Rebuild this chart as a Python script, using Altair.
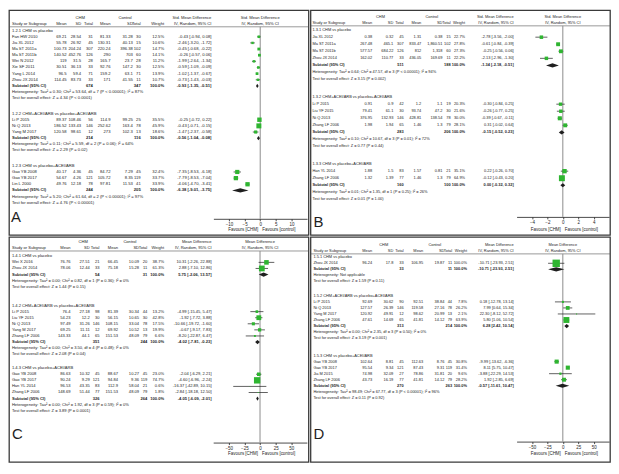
import altair as alt
import pandas as pd

FONT = "Liberation Sans, Arial, sans-serif"
LETTER_FONT = "Liberation Sans, Arial, sans-serif"
INK = "#1e1e1e"
GREEN = "#2fb531"
PW, PH = 301, 226

# ---------------- Panel A : Std. Mean Difference ----------------
A_groups = ["1.2.1 CHM vs placebo", "1.2.2 CHM+ACEI/ARB vs placebo+ACEI/ARB", "1.2.3 CHM vs placebo+ACEI/ARB"]
A_sizes = [8, 3, 3]
A_study = ["Fan HW 2010", "Jia XL 2012", "Ma ST 2011a", "Ma ST 2011b", "Wei N 2012", "Xie SF 2011", "Yang L 2014",
           "Zhou JX 2014", "Li P 2015", "Ni Q 2013", "Yang M 2017", "Gao YB 2008", "Gao YB 2017", "Lin L 2000"]
A_chm_mean = ["69.21", "55.78", "100.73", "140.52", "119", "30.51", "96.5", "114.45", "89.37", "186.52", "120.58", "40.17", "54.67", "49.76"]
A_chm_sd = ["28.54", "26.92", "204.24", "452.76", "31.5", "36.13", "59.4", "83.73", "108.46", "133.43", "98.61", "4.36", "4.26", "12.18"]
A_chm_n = [31, 45, 307, 126, 28, 33, 71, 33, 56, 146, 12, 45, 121, 78]
A_ctl_mean = ["81.33", "130.31", "220.24", "290", "165.7", "92.76", "159.2", "171", "114.9", "252.62", "273", "84.72", "105.72", "97.81"]
A_ctl_sd = ["31.28", "40.13", "396.38", "703", "23.7", "147.2", "63.1", "41.55", "99.25", "163.4", "102.3", "7.29", "8.35", "11.53"]
A_ctl_n = [30, 15, 102, 60, 28, 30, 71, 11, 25, 78, 13, 45, 119, 41]
A_weight = [12.5, 10.6, 14.7, 14.1, 11.2, 12.5, 13.9, 10.7, 35.5, 45.9, 18.6, 32.4, 33.7, 33.9]
A_est = [-0.43, -2.46, -0.45, -0.26, -1.99, -0.59, -1.02, -0.73, -0.25, -0.43, -1.47, -7.35, -7.79, -4.06]
A_lo = [-0.94, -3.20, -0.68, -0.57, -2.64, -1.09, -1.37, -1.43, -0.72, -0.71, -2.37, -8.53, -8.53, -4.70]
A_hi = [0.08, -1.72, -0.22, 0.06, -1.34, -0.09, -0.67, -0.03, 0.22, -0.15, -0.58, -6.18, -7.04, -3.41]
A_sub_chm_n = [674, 214, 244]
A_sub_ctl_n = [347, 116, 205]
A_sub_est = [-0.93, -0.56, -6.38]
A_sub_lo = [-1.35, -1.04, -9.01]
A_sub_hi = [-0.51, -0.08, -3.75]
A_het = ["Heterogeneity: Tau\u00b2 = 0.30; Chi\u00b2 = 53.64, df = 7 (P < 0.00001); I\u00b2 = 87%",
         "Heterogeneity: Tau\u00b2 = 0.11; Chi\u00b2 = 5.59, df = 2 (P = 0.06); I\u00b2 = 64%",
         "Heterogeneity: Tau\u00b2 = 5.20; Chi\u00b2 = 61.64, df = 2 (P < 0.00001); I\u00b2 = 97%"]
A_test = ["Test for overall effect: Z = 4.34 (P < 0.0001)",
          "Test for overall effect: Z = 2.29 (P = 0.02)",
          "Test for overall effect: Z = 4.76 (P < 0.00001)"]
A_domain = [-15, 15]
A_ticks = [-10, -5, 0, 5, 10]

# ---------------- Panel B : Std. Mean Difference ----------------
B_groups = ["1.3.1 CHM vs placebo", "1.3.2 CHM+ACEI/ARB vs placebo+ACEI/ARB", "1.3.3 CHM vs placebo+ACEI/ARB"]
B_sizes = [4, 4, 2]
B_study = ["Jia XL 2012", "Ma ST 2011a", "Ma ST 2011b", "Zhou JX 2014", "Li P 2015", "Liu YF 2015", "Ni Q 2013",
           "Zhang LF 2006", "Han YL 2014", "Zhang LF 2006"]
B_chm_mean = ["0.38", "267.48", "577.57", "162.02", "0.91", "79.41", "376.95", "1.98", "1.88", "1.32"]
B_chm_sd = ["0.32", "465.1", "684.22", "110.77", "0.9", "61.1", "132.93", "1.94", "1.5", "1.39"]
B_chm_n = [45, 307, 126, 33, 42, 30, 146, 65, 83, 77]
B_ctl_mean = ["1.31", "833.47", "812", "436.05", "1.2", "93.74", "428.81", "1.46", "1.57", "1.46"]
B_ctl_sd = ["0.38", "1,860.51", "1,318", "169.69", "1.1", "47.2", "138.54", "1.3", "0.81", "1.3"]
B_ctl_n = [15, 102, 60, 11, 19, 30, 78, 79, 21, 79]
B_weight = [22.7, 27.8, 27.3, 22.2, 20.3, 21.6, 30.0, 28.1, 35.1, 64.9]
B_est = [-2.78, -0.61, -0.25, -2.13, -0.30, -0.26, -0.39, 0.31, 0.22, -0.12]
B_lo = [-3.56, -0.84, -0.56, -2.96, -0.84, -0.77, -0.67, -0.02, -0.26, -0.43]
B_hi = [-2.00, -0.39, 0.06, -1.30, 0.25, 0.25, -0.11, 0.64, 0.70, 0.20]
B_sub_chm_n = [511, 283, 160]
B_sub_ctl_n = [188, 206, 100]
B_sub_est = [-1.34, -0.15, 0.00]
B_sub_lo = [-2.18, -0.52, -0.32]
B_sub_hi = [-0.51, 0.23, 0.32]
B_het = ["Heterogeneity: Tau\u00b2 = 0.64; Chi\u00b2 = 47.57, df = 3 (P < 0.00001); I\u00b2 = 94%",
         "Heterogeneity: Tau\u00b2 = 0.10; Chi\u00b2 = 10.67, df = 3 (P = 0.01); I\u00b2 = 72%",
         "Heterogeneity: Tau\u00b2 = 0.01; Chi\u00b2 = 1.35, df = 1 (P = 0.25); I\u00b2 = 26%"]
B_test = ["Test for overall effect: Z = 3.15 (P = 0.002)",
          "Test for overall effect: Z = 0.77 (P = 0.44)",
          "Test for overall effect: Z = 0.01 (P = 1.00)"]
B_domain = [-6, 6]
B_ticks = [-4, -2, 0, 2, 4]

# ---------------- Panel C : Mean Difference ----------------
C_groups = ["1.4.1 CHM vs placebo", "1.4.2 CHM+ACEI/ARB vs placebo+ACEI/ARB", "1.4.3 CHM vs placebo+ACEI/ARB"]
C_sizes = [2, 5, 4]
C_study = ["Wei X 2016", "Zhou JX 2014", "Li P 2015", "Liu YF 2015", "Ni Q 2013", "Yang M 2017", "Zhang LF 2006",
           "Gao YB 2008", "Gao YB 2017", "Han YL 2014", "Zhang LF 2006"]
C_chm_mean = ["76.76", "78.06", "76.4", "54.23", "97.49", "69.25", "143.33", "86.63", "90.24", "96.53", "148.69"]
C_chm_sd = ["27.51", "12.44", "27.18", "12.2", "31.26", "11.11", "44.1", "10.32", "9.29", "43.35", "51.44"]
C_chm_n = [21, 33, 98, 30, 146, 12, 65, 45, 121, 83, 77]
C_ctl_mean = ["66.45", "75.18", "81.39", "56.15", "108.15", "69.92", "151.53", "88.67", "94.84", "112.9", "151.53"]
C_ctl_sd = ["10.09", "15.28", "30.34", "10.65", "33.04", "10.52", "48.09", "10.27", "9.36", "58.04", "48.09"]
C_ctl_n = [20, 11, 44, 30, 78, 13, 79, 45, 119, 21, 79]
C_weight = [38.7, 61.3, 13.2, 42.8, 17.5, 19.9, 6.6, 23.0, 74.7, 0.6, 1.8]
C_est = [10.31, 2.88, -4.99, -1.92, -10.66, -0.67, -8.20, -2.04, -4.60, -16.37, -2.84]
C_lo = [-2.26, -7.10, -15.45, -7.72, -19.72, -9.17, -22.87, -6.29, -6.96, -42.89, -18.18]
C_hi = [22.88, 12.86, 5.47, 3.88, -1.60, 7.83, 6.47, 2.21, -2.24, 10.15, 12.50]
C_sub_chm_n = [54, 351, 326]
C_sub_ctl_n = [31, 244, 264]
C_sub_est = [5.75, -4.02, -4.05]
C_sub_lo = [-2.06, -7.81, -6.09]
C_sub_hi = [13.57, -0.23, -2.01]
C_het = ["Heterogeneity: Tau\u00b2 = 0.00; Chi\u00b2 = 0.82, df = 1 (P = 0.36); I\u00b2 = 0%",
         "Heterogeneity: Tau\u00b2 = 0.00; Chi\u00b2 = 3.50, df = 4 (P = 0.48); I\u00b2 = 0%",
         "Heterogeneity: Tau\u00b2 = 0.00; Chi\u00b2 = 1.92, df = 3 (P = 0.59); I\u00b2 = 0%"]
C_test = ["Test for overall effect: Z = 1.44 (P = 0.15)",
          "Test for overall effect: Z = 2.08 (P = 0.04)",
          "Test for overall effect: Z = 3.89 (P = 0.0001)"]
C_domain = [-75, 75]
C_ticks = [-50, -25, 0, 25, 50]

# ---------------- Panel D : Mean Difference ----------------
D_groups = ["1.5.1 CHM vs placebo", "1.5.2 CHM+ACEI/ARB vs placebo+ACEI/ARB", "1.5.3 CHM vs placebo+ACEI/ARB"]
D_sizes = [1, 4, 4]
D_study = ["Zhou JX 2014", "Li P 2015", "Ni Q 2013", "Yang M 2017", "Zhang LF 2006", "Gao YB 2008", "Gao YB 2017",
           "Jia M 2015", "Zhang LF 2006"]
D_chm_mean = ["96.24", "92.69", "127.57", "120.92", "47.61", "102.64", "95.54", "74.98", "43.73"]
D_chm_sd = ["17.8", "30.62", "26.39", "49.91", "14.69", "8.81", "9.34", "32.09", "16.19"]
D_chm_n = [33, 90, 146, 12, 65, 45, 121, 27, 77]
D_ctl_mean = ["106.95", "92.51", "119.58", "98.62", "41.81", "112.63", "87.43", "78.86", "41.81"]
D_ctl_sd = ["19.87", "38.84", "27.16", "20.99", "14.12", "8.76", "9.31", "31.81", "14.12"]
D_ctl_n = [11, 44, 78, 13, 79, 45, 119, 20, 79]
D_weight = [100.0, 7.8, 26.2, 2.1, 63.9, 30.8, 31.4, 9.6, 28.2]
D_est = [-10.71, 0.18, 7.99, 22.30, 5.80, -9.99, 8.11, -3.88, 1.92]
D_lo = [-23.93, -12.78, 0.64, -8.12, 1.06, -13.62, 5.75, -22.29, -2.85]
D_hi = [2.51, 13.14, 15.34, 52.72, 10.54, -6.36, 10.47, 14.53, 6.69]
D_sub_chm_n = [33, 313, 270]
D_sub_ctl_n = [11, 214, 263]
D_sub_est = [-10.71, 6.28, -0.57]
D_sub_lo = [-23.93, 2.42, -11.61]
D_sub_hi = [2.51, 10.14, 10.47]
D_het = ["Heterogeneity: Not applicable",
         "Heterogeneity: Tau\u00b2 = 0.00; Chi\u00b2 = 2.35, df = 3 (P = 0.50); I\u00b2 = 0%",
         "Heterogeneity: Tau\u00b2 = 98.49; Chi\u00b2 = 67.77, df = 3 (P < 0.00001); I\u00b2 = 96%"]
D_test = ["Test for overall effect: Z = 1.59 (P = 0.11)",
          "Test for overall effect: Z = 3.19 (P = 0.001)",
          "Test for overall effect: Z = 0.11 (P = 0.92)"]
D_domain = [-75, 75]
D_ticks = [-50, -25, 0, 25, 50]


def pack(prefix, measure, letter):
    g = globals()
    return dict(groups=g[prefix + "_groups"], sizes=g[prefix + "_sizes"], study=g[prefix + "_study"],
                m1=g[prefix + "_chm_mean"], s1=g[prefix + "_chm_sd"], n1=g[prefix + "_chm_n"],
                m2=g[prefix + "_ctl_mean"], s2=g[prefix + "_ctl_sd"], n2=g[prefix + "_ctl_n"],
                w=g[prefix + "_weight"], est=g[prefix + "_est"], lo=g[prefix + "_lo"], hi=g[prefix + "_hi"],
                sub_n1=g[prefix + "_sub_chm_n"], sub_n2=g[prefix + "_sub_ctl_n"], sub_est=g[prefix + "_sub_est"],
                sub_lo=g[prefix + "_sub_lo"], sub_hi=g[prefix + "_sub_hi"], het=g[prefix + "_het"],
                test=g[prefix + "_test"], domain=g[prefix + "_domain"], ticks=g[prefix + "_ticks"],
                measure=measure, letter=letter)


# layout of each panel, in pixels of the original panel
LAY_A = dict(w=307, h=236, fs=4.2, study=3, m1=59, s1=74, n1=86, m2=104, s2=127, n2=135, wt=159, ci=207.5,
             arm1=73, arm2=119, h1=8, h2=14.5, line=17.5, row0=21.5, pitch=6.45, gaps=[2.5, 2.5],
             xr=[209.5, 305.5], axis=219, fav=230.5, letter=(2, 222))
LAY_B = dict(w=311, h=236, fs=3.95, study=2, m1=64, s1=86, n1=96.7, m2=115, s2=137, n2=145.5, wt=160.5, ci=211,
             arm1=72.7, arm2=126, h1=7, h2=14, line=16.5, row0=21, pitch=7.4, gaps=[2.5, 2.5],
             xr=[214, 310], axis=217, fav=231, letter=(3, 228))
LAY_C = dict(w=307, h=233, fs=4.1, study=3, m1=63, s1=82.7, n1=92.7, m2=111.7, s2=133.3, n2=141.7, wt=159, ci=207.7,
             arm1=76, arm2=124, h1=5.5, h2=11.7, line=14.5, row0=20, pitch=6.3, gaps=[3.1, 2.3],
             xr=[209.3, 305.3], axis=213, fav=225, letter=(3, 209))
LAY_D = dict(w=311, h=233, fs=3.95, study=3, m1=64, s1=86, n1=96.7, m2=117, s2=139, n2=147, wt=162.5, ci=211,
             arm1=76, arm2=129, h1=8, h2=15, line=17.5, row0=21, pitch=6.25, gaps=[2.4, 2.9],
             xr=[214, 310], axis=212, fav=225, letter=(3, 209))


def ci_text(e, l, h):
    return f"{e:.2f} [{l:.2f}, {h:.2f}]"


def build_panel(P, L):
    sx, sy = PW / L["w"], PH / L["h"]
    X = lambda v: v * sx
    Y = lambda v: v * sy
    row_of = lambda px: (px - L["row0"]) / L["pitch"]
    fs = L["fs"]
    ysc = alt.Scale(domain=[0, 1], range=[Y(L["row0"]), Y(L["row0"] + L["pitch"])], nice=False, zero=False)
    xsc = alt.Scale(domain=P["domain"], range=[X(L["xr"][0]), X(L["xr"][1])], nice=False, zero=False)

    T = []

    def put(row, key, text, align, bold=False):
        T.append(dict(row=row, px=X(L[key]), text=str(text), align=align, bold=bold))

    r1, r2 = row_of(L["h1"]), row_of(L["h2"])
    put(r1, "arm1", "CHM", "center")
    put(r1, "arm2", "Control", "center")
    put(r1, "ci", P["measure"], "right")
    for key, lab, al in [("study", "Study or Subgroup", "left"), ("m1", "Mean", "right"), ("s1", "SD", "right"),
                         ("n1", "Total", "right"), ("m2", "Mean", "right"), ("s2", "SD", "right"),
                         ("n2", "Total", "right"), ("wt", "Weight", "right"), ("ci", "IV, Random, 95% CI", "right")]:
        put(r2, key, lab, al)

    S, Dm = [], []
    hh = 2.2 / L["pitch"]
    r, k = 0.0, 0
    for g, title in enumerate(P["groups"]):
        if g:
            r += L["gaps"][g - 1]
        put(r, "study", title, "left")
        for _ in range(P["sizes"][g]):
            r += 1
            put(r, "study", P["study"][k], "left")
            put(r, "m1", P["m1"][k], "right")
            put(r, "s1", P["s1"][k], "right")
            put(r, "n1", P["n1"][k], "right")
            put(r, "m2", P["m2"][k], "right")
            put(r, "s2", P["s2"][k], "right")
            put(r, "n2", P["n2"][k], "right")
            put(r, "wt", f"{P['w'][k]:.1f}%", "right")
            put(r, "ci", ci_text(P["est"][k], P["lo"][k], P["hi"][k]), "right")
            S.append(dict(row=r, est=P["est"][k], lo=P["lo"][k], hi=P["hi"][k], w=P["w"][k]))
            k += 1
        r += 1
        put(r, "study", "Subtotal (95% CI)", "left", True)
        put(r, "n1", P["sub_n1"][g], "right", True)
        put(r, "n2", P["sub_n2"][g], "right", True)
        put(r, "wt", "100.0%", "right", True)
        e, lo, hi = P["sub_est"][g], P["sub_lo"][g], P["sub_hi"][g]
        put(r, "ci", ci_text(e, lo, hi), "right", True)
        Dm += [dict(gid=g, x=lo, ya=r, yb=r), dict(gid=g, x=e, ya=r - hh, yb=r + hh), dict(gid=g, x=hi, ya=r, yb=r)]
        r += 1
        put(r, "study", P["het"][g], "left")
        r += 1
        put(r, "study", P["test"][g], "left")

    one = pd.DataFrame({"k": [0]})
    ax = alt.Axis(values=P["ticks"], offset=-(PH - Y(L["axis"])), tickSize=2, labelFontSize=4.5, labelFont=FONT,
                  labelColor=INK, labelPadding=0.5, domainColor=INK, tickColor=INK, domainWidth=0.8, tickWidth=0.8,
                  grid=False, title=None, labelFlush=False, labelOverlap=False)

    layers = [
        alt.Chart(one).mark_rule(color="#555555", strokeWidth=0.6).encode(
            x=alt.value(0), x2=alt.value(PW), y=alt.value(Y(L["line"]))),
        alt.Chart(one).mark_rule(color="#8c8c8c", strokeWidth=1).encode(
            x=alt.datum(0), y=alt.value(Y(L["line"])), y2=alt.value(Y(L["axis"]))),
    ]
    Tdf = pd.DataFrame(T)
    for (al, bd), sub in Tdf.groupby(["align", "bold"]):
        layers.append(
            alt.Chart(sub).mark_text(align=al, baseline="middle", font=FONT, fontSize=fs,
                                     fontWeight="bold" if bd else "normal", color=INK).encode(
                x=alt.X("px:Q", scale=None, axis=None),
                y=alt.Y("row:Q", scale=ysc, axis=None),
                text="text:N"))
    Sdf = pd.DataFrame(S)
    layers += [
        alt.Chart(Sdf).mark_rule(color=INK, strokeWidth=0.7).encode(
            x=alt.X("lo:Q", scale=xsc, axis=ax), x2="hi:Q", y=alt.Y("row:Q", scale=ysc, axis=None)),
        alt.Chart(Sdf).mark_square(color=GREEN, opacity=1, filled=True).encode(
            x=alt.X("est:Q", scale=xsc, axis=ax), y=alt.Y("row:Q", scale=ysc, axis=None),
            size=alt.Size("w:Q", scale=alt.Scale(domain=[0, 100], range=[0, 55]), legend=None)),
        alt.Chart(pd.DataFrame(Dm)).mark_area(color=INK, orient="vertical", opacity=1).encode(
            x=alt.X("x:Q", scale=xsc, axis=ax), y=alt.Y("ya:Q", scale=ysc, axis=None), y2="yb:Q",
            detail="gid:N"),
        alt.Chart(pd.DataFrame({"row": [r1, r2], "text": [P["measure"], "IV, Random, 95% CI"]})).mark_text(
            align="center", baseline="middle", font=FONT, fontSize=fs, color=INK).encode(
            x=alt.datum(0), y=alt.Y("row:Q", scale=ysc, axis=None), text="text:N"),
        alt.Chart(one).mark_text(align="right", dx=-2, baseline="middle", font=FONT, fontSize=4.5, color=INK).encode(
            x=alt.datum(0), y=alt.value(Y(L["fav"])), text=alt.value("Favours [CHM]")),
        alt.Chart(one).mark_text(align="left", dx=2, baseline="middle", font=FONT, fontSize=4.5, color=INK).encode(
            x=alt.datum(0), y=alt.value(Y(L["fav"])), text=alt.value("Favours [control]")),
        alt.Chart(one).mark_text(align="left", baseline="alphabetic", font=LETTER_FONT, fontSize=15,
                                 color=INK).encode(
            x=alt.value(X(L["letter"][0])), y=alt.value(Y(L["letter"][1])), text=alt.value(P["letter"])),
    ]
    return alt.layer(*layers).properties(width=PW, height=PH)


pA = build_panel(pack("A", "Std. Mean Difference", "A"), LAY_A)
pB = build_panel(pack("B", "Std. Mean Difference", "B"), LAY_B)
pC = build_panel(pack("C", "Mean Difference", "C"), LAY_C)
pD = build_panel(pack("D", "Mean Difference", "D"), LAY_D)

chart = alt.vconcat(
    alt.hconcat(pA, pB, spacing=0),
    alt.hconcat(pC, pD, spacing=0),
    spacing=0,
).properties(padding=0).configure_view(stroke="#3a3a3a", strokeWidth=1.3)

chart.save("out.html", embed_options={"renderer": "svg", "actions": False})
